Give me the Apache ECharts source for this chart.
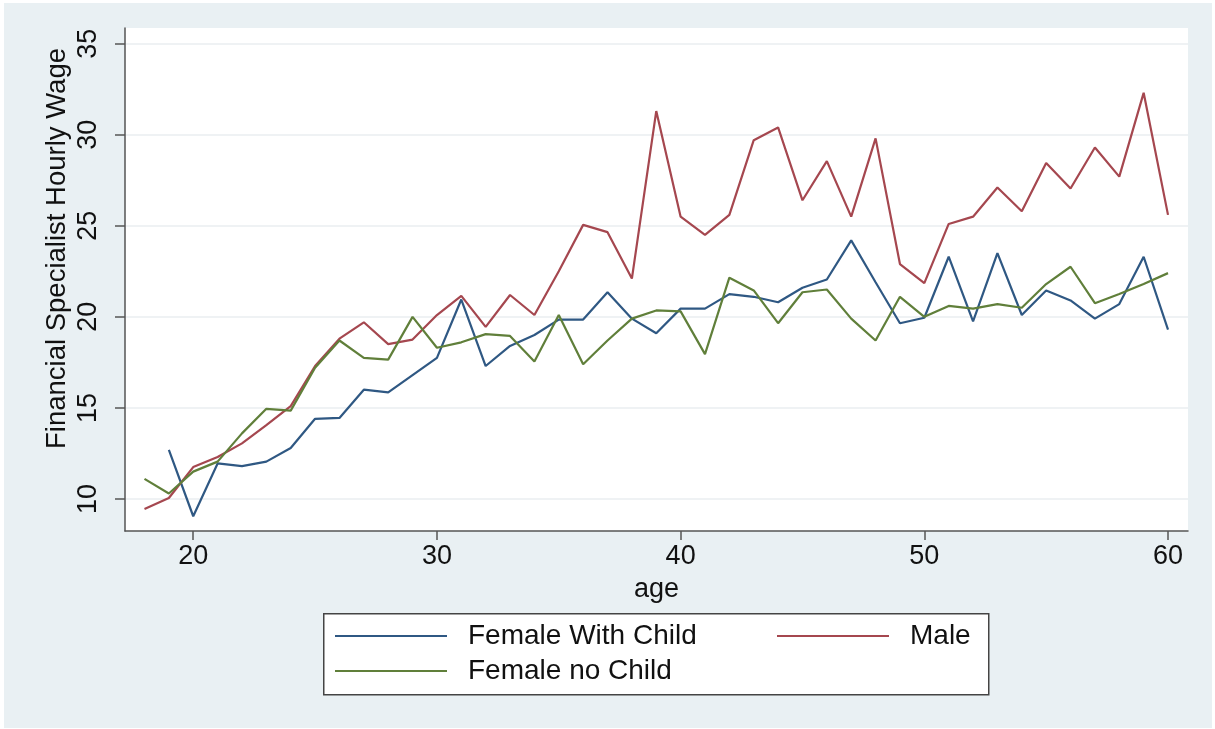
<!DOCTYPE html>
<html>
<head>
<meta charset="utf-8">
<script src="https://cdn.jsdelivr.net/npm/echarts@6/dist/echarts.min.js"></script>
<style>
  html, body { margin: 0; padding: 0; background: #ffffff; }
  #bg { position: absolute; left: 4px; top: 3px; width: 1208px; height: 725px; background: #e9f0f3; }
  #chart { position: absolute; left: 0; top: 0; width: 1215px; height: 729px; }
</style>
</head>
<body>
<div id="bg"></div>
<div id="chart"></div>
<script>
const ages = [18,19,20,21,22,23,24,25,26,27,28,29,30,31,32,33,34,35,36,37,38,39,40,41,42,43,44,45,46,47,48,49,50,51,52,53,54,55,56,57,58,59,60];
const femaleWithChild = [null,12.7,9.05,11.95,11.8,12.05,12.8,14.4,14.45,16.0,15.85,16.8,17.75,20.95,17.3,18.4,19.0,19.85,19.85,21.35,19.9,19.1,20.45,20.45,21.25,21.1,20.8,21.6,22.05,24.2,21.9,19.65,19.95,23.3,19.75,23.5,20.1,21.45,20.9,19.9,20.7,23.3,19.3];
const male = [9.45,10.05,11.75,12.3,13.05,14.05,15.1,17.3,18.8,19.7,18.5,18.75,20.1,21.15,19.45,21.2,20.1,22.5,25.05,24.65,22.1,31.3,25.5,24.5,25.6,29.7,30.4,26.4,28.55,25.5,29.8,22.9,21.85,25.1,25.5,27.1,25.8,28.45,27.05,29.3,27.7,32.3,25.6];
const femaleNoChild = [11.1,10.3,11.5,12.05,13.6,14.95,14.85,17.2,18.7,17.75,17.65,20.0,18.3,18.6,19.05,18.95,17.55,20.1,17.4,18.7,19.9,20.35,20.3,17.95,22.15,21.45,19.65,21.35,21.5,19.9,18.7,21.1,20.0,20.6,20.45,20.7,20.5,21.8,22.75,20.75,21.25,21.8,22.4];
const xTicks = [20,30,40,50,60];
const yTicks = [10,15,20,25,30,35];
const seriesNames = ['Female With Child','Male','Female no Child'];
const colors = ['#2f5883','#a5474f','#607f3a'];

const pair = arr => ages.map((a, i) => [a, arr[i]]);
const font = 'Liberation Sans, Arial, Helvetica, sans-serif';

const chart = echarts.init(document.getElementById('chart'), null, {renderer: 'canvas'});
const legendCommon = {
  orient: 'horizontal', padding: 0, icon: 'rect', itemWidth: 112, itemHeight: 2,
  selectedMode: false,
  textStyle: { fontSize: 28, fontFamily: font, color: '#111', padding: [0,0,0,16] }
};
chart.setOption({
  animation: false,
  color: colors,
  grid: { left: 125, right: 27, top: 28, bottom: 198, show: true, backgroundColor: '#ffffff', borderWidth: 0 },
  xAxis: {
    type: 'value', min: 17.2, max: 60.82,
    name: 'age', nameLocation: 'middle', nameGap: 45, nameMoveOverlap: false,
    nameTextStyle: { fontSize: 27, fontFamily: font, color: '#111' },
    axisLine: { show: true, lineStyle: { color: '#555', width: 1.5 } },
    axisTick: { show: true, length: 9, customValues: xTicks, lineStyle: { color: '#555', width: 1.5 } },
    axisLabel: { customValues: xTicks, fontSize: 27, fontFamily: font, color: '#111', margin: 12 },
    splitLine: { show: false }
  },
  yAxis: {
    type: 'value', min: 8.24, max: 35.86,
    name: 'Financial Specialist Hourly Wage', nameLocation: 'middle', nameGap: 54, nameMoveOverlap: false,
    nameTextStyle: { fontSize: 27.5, fontFamily: font, color: '#111', padding: [0,0,0,62] },
    axisLine: { show: true, lineStyle: { color: '#555', width: 1.5 } },
    axisTick: { show: true, length: 10, customValues: yTicks, lineStyle: { color: '#555', width: 1.5 } },
    axisLabel: { customValues: yTicks, rotate: 90, fontSize: 27, fontFamily: font, color: '#111', margin: 23 },
    splitLine: { show: true, lineStyle: { color: '#eaeef1', width: 1.5 } }
  },
  legend: [
    Object.assign({ data: [seriesNames[0]], left: 335, top: 622 }, legendCommon),
    Object.assign({ data: [seriesNames[1]], left: 777, top: 622 }, legendCommon),
    Object.assign({ data: [seriesNames[2]], left: 335, top: 657 }, legendCommon)
  ],
  graphic: [{
    type: 'rect', left: 323, top: 613, z: -1,
    shape: { width: 665, height: 81 },
    style: { fill: '#ffffff', stroke: '#444', lineWidth: 1.5 }
  }],
  series: [
    { name: seriesNames[0], type: 'line', data: pair(femaleWithChild), showSymbol: false, connectNulls: false, lineStyle: { width: 2.2 } },
    { name: seriesNames[1], type: 'line', data: pair(male), showSymbol: false, lineStyle: { width: 2.2 } },
    { name: seriesNames[2], type: 'line', data: pair(femaleNoChild), showSymbol: false, lineStyle: { width: 2.2 } }
  ]
});
</script>
</body>
</html>
